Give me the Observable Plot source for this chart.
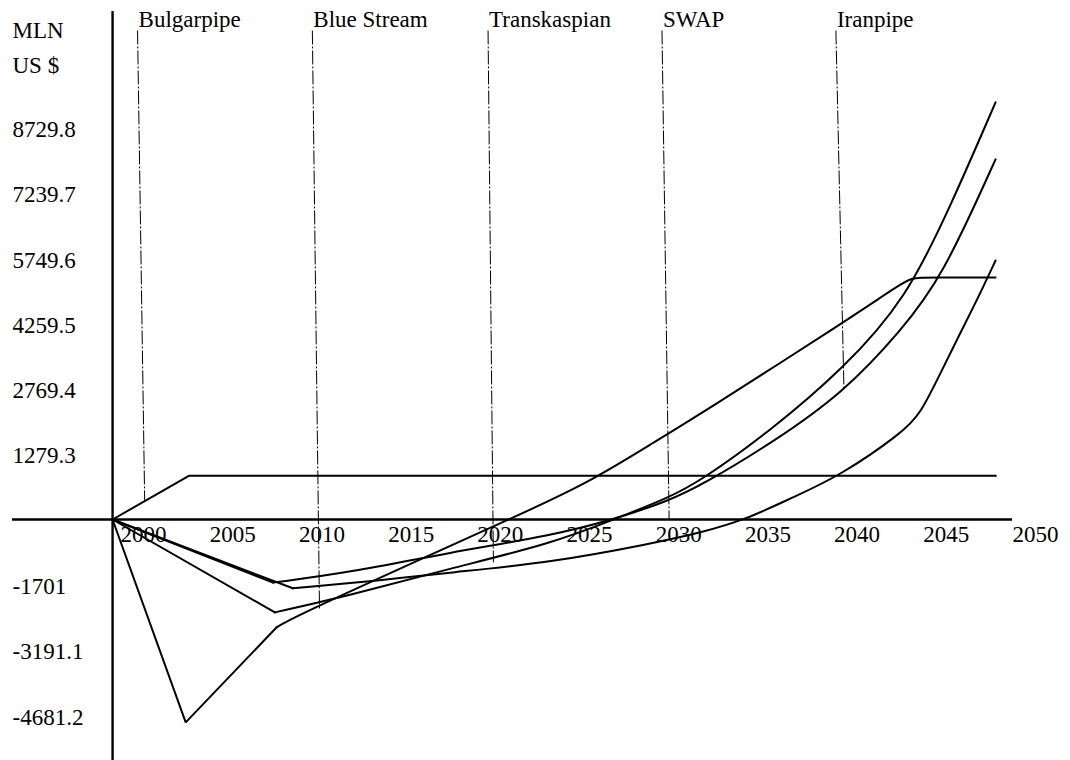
<!DOCTYPE html>
<html>
<head>
<meta charset="utf-8">
<script src="https://cdn.jsdelivr.net/npm/d3@7"></script>
<script src="https://cdn.jsdelivr.net/npm/@observablehq/plot@0.6"></script>
<style>
  html, body { margin: 0; padding: 0; background: #ffffff; }
  #chart svg { display: block; }
</style>
</head>
<body>
<div id="chart"></div>
<script>
// ---- Data ----
const seriesNames = ["Bulgarpipe", "Blue Stream", "Transkaspian", "Iranpipe", "SWAP"];

const bulgarYears  = [2000, 2004.3, 2049.5];
const bulgarValues = [0, 1000, 1000];

const blueYears  = [2000, 2004.1, 2009.2, 2010.1, 2016.1, 2022.6, 2026.6, 2030.5, 2033.0, 2041.0, 2044.3, 2044.8, 2045.3, 2046.0, 2049.5];
const blueValues = [0, -4630, -2460, -2240, -1120, 70, 820, 1800, 2420, 4500, 5410, 5500, 5520, 5520, 5520];

const transYears  = [2000, 2009.1, 2013.3, 2018.9, 2024.6, 2028.1, 2031.2, 2033.0, 2036.9, 2041.0, 2044.5, 2047.0, 2049.5];
const transValues = [0, -2120, -1730, -1120, -550, 0, 500, 890, 2030, 3450, 5040, 7170, 9520];

const iranYears  = [2000, 2009.0, 2013.3, 2018.9, 2024.6, 2028.1, 2031.2, 2033.0, 2036.9, 2041.0, 2044.2, 2046.5, 2049.5];
const iranValues = [0, -1440, -1210, -750, -370, 0, 430, 780, 1730, 2900, 4310, 5520, 8220];

const swapYears  = [2000, 2010.1, 2015.0, 2018.9, 2024.6, 2030.2, 2033.0, 2035.5, 2038.0, 2040.8, 2044.3, 2045.3, 2046.4, 2047.5, 2048.5, 2049.5];
const swapValues = [0, -1570, -1390, -1210, -980, -550, -300, 0, 480, 1000, 1990, 2420, 3330, 4240, 5040, 5910];

// index of the last sharp corner of each series (straight segments up to it, smooth after)
const cornerIndex = [2, 2, 1, 1, 1];

// Axis tick labels
const xTicks = [2000, 2005, 2010, 2015, 2020, 2025, 2030, 2035, 2040, 2045, 2050];
const yTicks = [8729.8, 7239.7, 5749.6, 4259.5, 2769.4, 1279.3, -1701, -3191.1, -4681.2];

// Pipe labels with their leader lines
const labelNames        = ["Bulgarpipe", "Blue Stream", "Transkaspian", "SWAP", "Iranpipe"];
const leaderTopYears    = [2001.4, 2011.2, 2021.05, 2030.8, 2040.55];
const leaderBottomYears = [2001.8, 2011.6, 2021.35, 2031.2, 2041.0];
const leaderBottomVals  = [430, -2030, -980, 0, 2990];
const leaderTopVal = 11160;
const labelVal = 11228;

const unitLines = ["MLN", "US $"];

// Scale / axis extents
const xDomain = [1994.39, 2050.45];
const yDomain = [-5500, 11844];
const yAxisTop = 11593;

// ---- Build tables ----
const straightRows = [];
const smoothRows = [];
[[bulgarYears, bulgarValues], [blueYears, blueValues], [transYears, transValues],
 [iranYears, iranValues], [swapYears, swapValues]].forEach(([ys, vs], k) => {
  ys.forEach((yr, i) => {
    const row = {series: seriesNames[k], year: yr, value: vs[i]};
    if (i <= cornerIndex[k]) straightRows.push(row);
    if (i >= cornerIndex[k]) smoothRows.push(row);
  });
});
const leaders = labelNames.map((n, i) => ({
  name: n, x1: leaderTopYears[i], y1: leaderTopVal, x2: leaderBottomYears[i], y2: leaderBottomVals[i]
}));

const FS = 23;
const chart = Plot.plot({
  width: 1070,
  height: 760,
  marginLeft: 12,
  marginRight: 58,
  marginTop: 0,
  marginBottom: 0,
  x: {domain: xDomain, axis: null},
  y: {domain: yDomain, axis: null},
  style: {fontFamily: "'Liberation Serif', 'Times New Roman', serif", background: "#ffffff", color: "#000000"},
  marks: [
    Plot.link(leaders, {x1: "x1", y1: "y1", x2: "x2", y2: "y2", stroke: "#000", strokeWidth: 1, strokeDasharray: "14,2,2,2"}),
    Plot.ruleY([0], {stroke: "#000", strokeWidth: 2.4}),
    Plot.ruleX([2000], {y1: yAxisTop, y2: yDomain[0], stroke: "#000", strokeWidth: 2.4}),
    Plot.line(straightRows, {x: "year", y: "value", z: "series", stroke: "#000", strokeWidth: 2, strokeLinejoin: "miter"}),
    Plot.line(smoothRows, {x: "year", y: "value", z: "series", stroke: "#000", strokeWidth: 2, curve: "basis"}),
    Plot.text(xTicks, {x: d => d, y: 0, text: d => String(d), textAnchor: "start", lineAnchor: "bottom", dx: 8, dy: 23, fontSize: FS, fill: "#000"}),
    Plot.text(yTicks, {y: d => d, frameAnchor: "left", text: d => String(d), textAnchor: "start", lineAnchor: "bottom", fontSize: FS, fill: "#000"}),
    Plot.text(leaders, {x: "x1", y: labelVal, text: "name", textAnchor: "start", lineAnchor: "bottom", dx: 1, fontSize: FS, fill: "#000"}),
    Plot.text([unitLines[0]], {frameAnchor: "top-left", text: d => d, textAnchor: "start", lineAnchor: "bottom", dy: 37, fontSize: FS, fill: "#000"}),
    Plot.text([unitLines[1]], {frameAnchor: "top-left", text: d => d, textAnchor: "start", lineAnchor: "bottom", dy: 72, fontSize: FS, fill: "#000"})
  ]
});
document.getElementById("chart").appendChild(chart);
</script>
</body>
</html>
